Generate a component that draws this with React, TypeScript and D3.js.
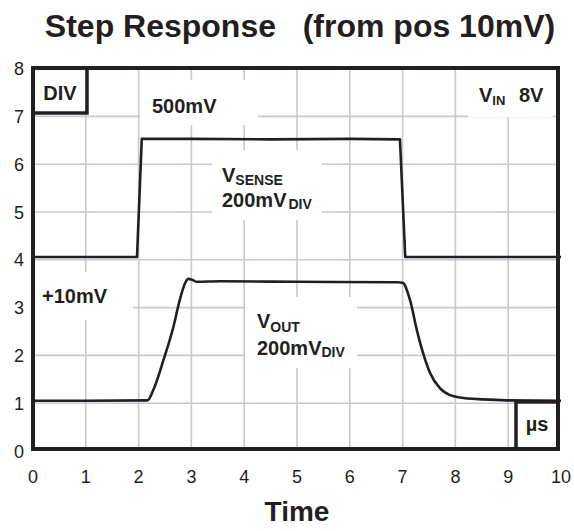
import React from "react";
import * as d3 from "d3";

const xTicks = [0, 1, 2, 3, 4, 5, 6, 7, 8, 9, 10];
const yTicks = [0, 1, 2, 3, 4, 5, 6, 7, 8];
const senseT = [0, 1.0, 1.97, 2.06, 3.0, 4.5, 6.0, 6.95, 7.05, 8.5, 10];
const senseV = [4.06, 4.06, 4.06, 6.53, 6.53, 6.52, 6.53, 6.52, 4.06, 4.06, 4.06];
const outT = [0, 1.0, 2.17, 2.28, 2.47, 2.66, 2.78, 2.88, 2.94, 3.02, 3.1, 3.54, 5.0, 6.9, 7.0, 7.14, 7.27, 7.39, 7.52, 7.71, 7.9, 8.09, 8.53, 8.97, 10];
const outV = [1.05, 1.05, 1.06, 1.28, 1.9, 2.6, 3.16, 3.51, 3.6, 3.58, 3.54, 3.55, 3.54, 3.53, 3.52, 3.16, 2.53, 2.04, 1.63, 1.31, 1.17, 1.12, 1.08, 1.06, 1.05];

const FONT = "'Liberation Sans', Arial, Helvetica, sans-serif";
const INK = "#231f20";
const GRID = "#c6c9d1";

export default function App() {
  const x = d3.scaleLinear().domain([0, 10]).range([33, 561]);
  const y = d3.scaleLinear().domain([0, 8]).range([451, 68.6]);
  const senseLine = d3
    .line<[number, number]>()
    .x((d) => x(d[0]))
    .y((d) => y(d[1]))
    .curve(d3.curveLinear)(senseT.map((t, i) => [t, senseV[i]]) as [number, number][]);
  const outLine = d3
    .line<[number, number]>()
    .x((d) => x(d[0]))
    .y((d) => y(d[1]))
    .curve(d3.curveMonotoneX)(outT.map((t, i) => [t, outV[i]]) as [number, number][]);

  const masks = [
    [140, 80, 118, 45],
    [468, 69, 85, 48],
    [212, 150, 110, 70],
    [245, 297, 112, 71],
    [35, 272, 98, 48],
  ];

  const frameL = 33, frameR = 558, frameT = 68, frameB = 449;

  return (
    <svg width={574} height={531} style={{ position: "absolute", left: 0, top: 0, background: "#fff" }} fontFamily={FONT}>
      <rect x={0} y={0} width={574} height={531} fill="#fff" />
      <text x={300} y={37} textAnchor="middle" fontSize={32} fontWeight="bold" fill={INK} style={{ whiteSpace: "pre" }}>
        Step Response   (from pos 10mV)
      </text>
      {xTicks.slice(1, -1).map((t) => (
        <line key={"gx" + t} x1={x(t)} x2={x(t)} y1={frameT} y2={frameB} stroke={GRID} strokeWidth={1.6} />
      ))}
      {yTicks.slice(1, -1).map((v) => (
        <line key={"gy" + v} x1={frameL} x2={frameR} y1={y(v)} y2={y(v)} stroke={GRID} strokeWidth={1.6} />
      ))}
      {masks.map((m, i) => (
        <rect key={"m" + i} x={m[0]} y={m[1]} width={m[2]} height={m[3]} fill="#fff" />
      ))}
      <path d={senseLine || ""} fill="none" stroke={INK} strokeWidth={2.6} strokeLinejoin="round" />
      <path d={outLine || ""} fill="none" stroke={INK} strokeWidth={2.6} strokeLinejoin="round" />
      <rect x={frameL} y={frameT} width={87 - frameL} height={113 - frameT} fill="none" stroke={INK} strokeWidth={3.5} />
      <rect x={516} y={402} width={frameR - 516} height={frameB - 402} fill="#fff" stroke={INK} strokeWidth={3.5} />
      <rect x={frameL} y={frameT} width={frameR - frameL} height={frameB - frameT} fill="none" stroke={INK} strokeWidth={4} />
      <text x={60} y={100} textAnchor="middle" fontSize={20} fontWeight="bold" fill={INK}>DIV</text>
      <text x={537} y={431} textAnchor="middle" fontSize={20} fontWeight="bold" fill={INK}>µs</text>
      <text x={152} y={113} fontSize={20} fontWeight="bold" fill={INK}>500mV</text>
      <text x={479} y={102} fontSize={20} fontWeight="bold" fill={INK}>
        V<tspan fontSize={13} dy={3}>IN</tspan>
      </text>
      <text x={519} y={102} fontSize={20} fontWeight="bold" fill={INK}>8V</text>
      <text x={222} y={182} fontSize={20} fontWeight="bold" fill={INK}>
        V<tspan fontSize={14} dy={3}>SENSE</tspan>
      </text>
      <text x={222} y={207} fontSize={20} fontWeight="bold" fill={INK}>
        200mV<tspan fontSize={14} dy={2} dx={2}>DIV</tspan>
      </text>
      <text x={257} y={328} fontSize={20} fontWeight="bold" fill={INK}>
        V<tspan fontSize={14} dy={4}>OUT</tspan>
      </text>
      <text x={257} y={355} fontSize={20} fontWeight="bold" fill={INK}>
        200mV<tspan fontSize={14} dy={2}>DIV</tspan>
      </text>
      <text x={42} y={303} fontSize={20} fontWeight="bold" fill={INK}>+10mV</text>
      {xTicks.map((t) => (
        <text key={"xt" + t} x={x(t)} y={483} textAnchor="middle" fontSize={18} fill={INK}>{t}</text>
      ))}
      {yTicks.map((v) => (
        <text key={"yt" + v} x={24} y={y(v) + 6.5} textAnchor="end" fontSize={18} fill={INK}>{v}</text>
      ))}
      <text x={297} y={521} textAnchor="middle" fontSize={28} fontWeight="bold" fill={INK}>Time</text>
    </svg>
  );
}
